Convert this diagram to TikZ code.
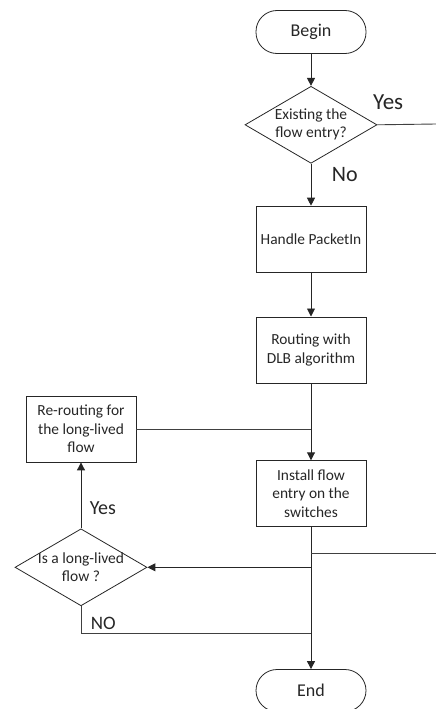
\documentclass[tikz,border=0pt]{standalone}
\usepackage{fontspec}
\setmainfont{Carlito}
\usetikzlibrary{shapes.geometric, arrows.meta, positioning}

\begin{document}
\begin{tikzpicture}[
      x=1pt, y=1pt,
      node distance=40pt,
      term/.style={rectangle, draw=black!85, thick, rounded corners=21pt, minimum width=110pt, minimum height=43pt, align=center, text=black!85, font=\fontsize{18}{21}\selectfont},
      proc/.style={rectangle, draw=black!85, thick, minimum width=110pt, minimum height=66pt, align=center, text=black!85, font=\fontsize{15.4}{18.5}\selectfont},
      dec/.style={diamond, draw=black!85, thick, aspect=1.7, inner sep=0pt, minimum width=132pt, minimum height=77pt, align=center, text=black!85, font=\fontsize{15.5}{18}\selectfont},
      lbl/.style={text=black!85, font=\fontsize{#1}{24}\selectfont},
      arrow/.style={-{Triangle[length=8pt, width=8pt]}, line width=0.9pt, black!85},
      line/.style={line width=0.9pt, black!75}
    ]
    \useasboundingbox (0,0) rectangle (436,-709);

    \node[term] (begin) at (311,-32) {Begin};
    \node[dec, below=32pt of begin] (dec1) {Existing the\\flow entry?};
    \node[proc, below=42pt of dec1] (handle) {Handle PacketIn};
    \node[proc, below=44pt of handle] (route) {Routing with\\DLB algorithm};
    \node[proc, below=77pt of route] (install) {Install flow\\entry on the\\switches};
    \node[term, below=142pt of install, minimum height=42pt] (end) {End};

    \node[proc] (reroute) at (81,-429) {Re-routing for\\the long-lived\\flow};
    \node[dec, below=66pt of reroute, inner xsep=-6pt] (dec2) {Is a long-lived\\flow ?};

    \coordinate (yesout) at (436,-124);
    \coordinate (sideout) at (436,-553);
    \coordinate (nojoin) at ([yshift=-27pt]dec2.south -| install.south);

    \draw[arrow] (begin) -- (dec1);
    \draw[line] (dec1.east) -- node[lbl=23, pos=0, anchor=south west, xshift=-8pt, yshift=11pt] {Yes} (yesout);
    \draw[arrow] (dec1) -- node[lbl=22, pos=0.25, right, xshift=17pt] {No} (handle);
    \draw[arrow] (handle) -- (route);
    \draw[arrow] (route) -- (install);
    \draw[line] (reroute.east) -- (reroute.east -| install.north);
    \draw[arrow] (install) -- (end);
    \draw[line] (sideout -| install.south) -- (sideout);
    \draw[arrow] (dec2.east -| install.south) -- (dec2.east);
    \draw[arrow] (dec2) -- node[lbl=20, pos=0.3, right, xshift=5pt] {Yes} (reroute);
    \draw[line] (dec2.south) |- node[lbl=19, pos=0.5, anchor=south west, xshift=6pt] {NO} (nojoin);
  \end{tikzpicture}
\end{document}
